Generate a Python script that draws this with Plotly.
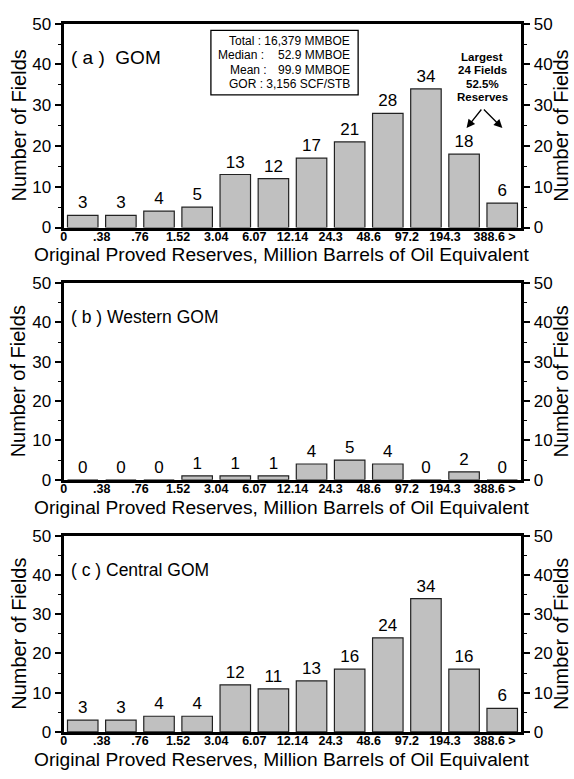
import plotly.graph_objects as go

# ---------------- data ----------------
bins = ["0", ".38", ".76", "1.52", "3.04", "6.07", "12.14", "24.3", "48.6", "97.2", "194.3", "388.6 >"]
gom = [3, 3, 4, 5, 13, 12, 17, 21, 28, 34, 18, 6]
western = [0, 0, 0, 1, 1, 1, 4, 5, 4, 0, 2, 0]
central = [3, 3, 4, 4, 12, 11, 13, 16, 24, 34, 16, 6]
panel_titles = ["(\u00a0a\u00a0)\u00a0\u00a0GOM", "(\u00a0b\u00a0)\u00a0Western GOM", "(\u00a0c\u00a0)\u00a0Central GOM"]
stats_labels = ["Total :", "Median :", "Mean :", "GOR :"]
stats_values = ["16,379 MMBOE", "52.9 MMBOE", "99.9 MMBOE", "3,156 SCF/STB"]
largest_lines = ["Largest", "24 Fields", "52.5%", "Reserves"]
x_title = "Original Proved Reserves, Million Barrels of Oil Equivalent"
y_title = "Number of Fields"

# ---------------- layout helpers ----------------
W, H = 574, 779
FONT = "Liberation Sans"
X0, X1 = 61, 521
panels = [(15, 224), (281, 482.5), (540, 741)]
series = [gom, western, central]


def px(x):
    return x / W


def py(y):
    return 1 - y / H


fig = go.Figure()
annotations = []
shapes = []
layout = dict(
    width=W, height=H,
    margin=dict(l=0, r=0, t=0, b=0),
    paper_bgcolor="white", plot_bgcolor="white",
    showlegend=False,
    font=dict(family=FONT, color="black"),
    bargap=0.2,
)

xpos = [i + 0.5 for i in range(len(bins))]
tickvals = list(range(len(bins) - 1)) + [len(bins) - 1 + 0.3]
ticktext = ["<b>%s</b>" % b for b in bins]

for k, (vals, (top, bot)) in enumerate(zip(series, panels)):
    n = k + 1
    xa = "x" if n == 1 else "x%d" % n
    ya = "y" if n == 1 else "y%d" % n
    yr = "y%d" % (n + 3)
    fig.add_trace(go.Bar(
        x=xpos, y=vals, xaxis=xa, yaxis=ya, width=0.8,
        marker=dict(color="#c0c0c0", line=dict(color="#222222", width=1.2)),
        text=[str(v) for v in vals], textposition="outside",
        textfont=dict(size=17, family=FONT, color="black"),
        cliponaxis=False, hoverinfo="skip",
    ))
    # invisible trace so the right-hand axis is drawn
    fig.add_trace(go.Scatter(x=[xpos[0]], y=[vals[0]], xaxis=xa, yaxis=yr,
                             mode="markers", marker=dict(opacity=0),
                             hoverinfo="skip"))
    ydom = [py(bot), py(top)]
    xkey = "xaxis" if n == 1 else "xaxis%d" % n
    ykey = "yaxis" if n == 1 else "yaxis%d" % n
    layout[xkey] = dict(
        domain=[px(X0), px(X1)], anchor=ya, range=[0, 12],
        showline=True, linewidth=3, linecolor="black", mirror=True,
        ticks="", tickvals=tickvals, ticktext=ticktext, ticklabelstandoff=-5,
        tickfont=dict(size=12.5, family=FONT), showgrid=False, zeroline=False,
        fixedrange=True,
    )
    yaxis_common = dict(
        domain=ydom, range=[0, 50], dtick=10, tick0=0,
        showline=True, linewidth=3, linecolor="black",
        ticks="outside", ticklen=6, tickwidth=1.5, tickcolor="black",
        minor=dict(dtick=5, ticks="outside", ticklen=3, tickwidth=1.2, tickcolor="black"),
        tickfont=dict(size=17, family=FONT), showgrid=False, zeroline=False,
        fixedrange=True,
    )
    layout[ykey] = dict(anchor=xa, side="left", **yaxis_common)
    layout["yaxis%d" % (n + 3)] = dict(anchor=xa, side="right", overlaying=ya, **yaxis_common)

    # axis titles
    annotations.append(dict(x=px(280), y=py(bot + 28), xref="paper", yref="paper",
                            text=x_title, showarrow=False, xanchor="center", yanchor="middle",
                            font=dict(size=19.2, family=FONT)))
    for xc in (16, 561):
        annotations.append(dict(x=px(xc), y=py((top + bot) / 2), xref="paper", yref="paper",
                                text=y_title, showarrow=False, textangle=-90,
                                xanchor="center", yanchor="middle",
                                font=dict(size=20, family=FONT)))
    # panel label
    annotations.append(dict(x=px(66), y=py(top + 35), xref="paper", yref="paper",
                            text=panel_titles[k], showarrow=False, xanchor="left", yanchor="middle",
                            font=dict(size=19 if n == 1 else 17.5, family=FONT)))

# statistics box (panel a)
shapes.append(dict(type="rect", xref="paper", yref="paper",
                   x0=px(209), x1=px(357), y0=py(88), y1=py(22),
                   line=dict(color="black", width=1.3), fillcolor="white"))
line_y = [33, 47.5, 62.5, 77]
label_left = [None, 214, 226, None]
for lab, val, ly, ll in zip(stats_labels, stats_values, line_y, label_left):
    if ll is None:
        annotations.append(dict(x=px(351), y=py(ly), xref="paper", yref="paper",
                                text=lab + " " + val, showarrow=False, xanchor="right",
                                yanchor="middle", font=dict(size=12, family=FONT)))
    else:
        annotations.append(dict(x=px(ll), y=py(ly), xref="paper", yref="paper", text=lab,
                                showarrow=False, xanchor="left", yanchor="middle",
                                font=dict(size=12, family=FONT)))
        annotations.append(dict(x=px(351), y=py(ly), xref="paper", yref="paper", text=val,
                                showarrow=False, xanchor="right", yanchor="middle",
                                font=dict(size=12, family=FONT)))

# "Largest 24 fields" note with arrows
for i, t in enumerate(largest_lines):
    annotations.append(dict(x=px(482), y=py(49 + i * 13.7), xref="paper", yref="paper",
                            text="<b>%s</b>" % t, showarrow=False, xanchor="center",
                            yanchor="middle", font=dict(size=11.5, family=FONT)))
for hx, axo in ((466, 16), (502, -20)):
    annotations.append(dict(x=px(hx), y=py(122), xref="paper", yref="paper", text="",
                            showarrow=True, arrowhead=2, arrowsize=1.3, arrowwidth=1.3,
                            arrowcolor="black", ax=axo, ay=-20))

layout["annotations"] = annotations
layout["shapes"] = shapes
fig.update_layout(**layout)
fig.write_html("out.html")
